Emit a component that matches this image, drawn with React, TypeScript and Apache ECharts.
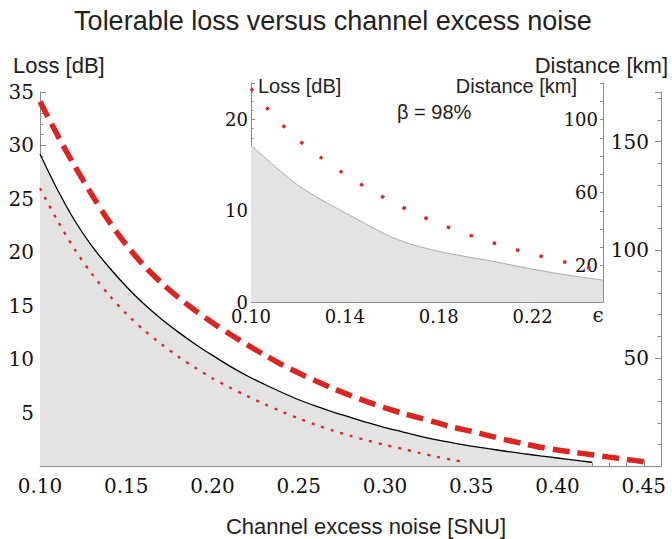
import React, { useEffect, useRef } from "react";
import * as echarts from "echarts";

// Main plot: channel excess noise [SNU] vs tolerable loss [dB]
const solidNoise = [0.10, 0.11, 0.12, 0.13, 0.14, 0.15, 0.16, 0.17, 0.18, 0.19, 0.20, 0.21, 0.22, 0.23, 0.24, 0.25, 0.26, 0.27, 0.28, 0.29, 0.30, 0.31, 0.32, 0.33, 0.34, 0.35, 0.36, 0.37, 0.38, 0.39, 0.40, 0.41, 0.42];
const solidLoss = [29.2, 25.9, 23.0, 20.6, 18.6, 16.8, 15.2, 13.8, 12.55, 11.4, 10.35, 9.35, 8.45, 7.65, 6.9, 6.2, 5.6, 5.05, 4.55, 4.05, 3.6, 3.2, 2.8, 2.45, 2.15, 1.87, 1.62, 1.38, 1.16, 0.95, 0.75, 0.55, 0.35];

const dashedNoise = [0.10, 0.11, 0.12, 0.13, 0.14, 0.15, 0.16, 0.17, 0.18, 0.19, 0.20, 0.21, 0.22, 0.23, 0.24, 0.25, 0.26, 0.27, 0.28, 0.29, 0.30, 0.31, 0.32, 0.33, 0.34, 0.35, 0.36, 0.37, 0.38, 0.39, 0.40, 0.41, 0.42, 0.43, 0.44, 0.45];
const dashedLoss = [34.1, 31.0, 28.1, 25.4, 22.9, 20.7, 18.8, 17.2, 15.8, 14.55, 13.4, 12.35, 11.35, 10.4, 9.5, 8.7, 7.95, 7.25, 6.6, 6.0, 5.45, 4.95, 4.5, 4.05, 3.6, 3.25, 2.85, 2.45, 2.1, 1.75, 1.5, 1.27, 1.05, 0.83, 0.62, 0.4];

const dottedNoise = [0.10, 0.11, 0.12, 0.13, 0.14, 0.15, 0.16, 0.17, 0.18, 0.19, 0.20, 0.21, 0.22, 0.23, 0.24, 0.25, 0.26, 0.27, 0.28, 0.29, 0.30, 0.31, 0.32, 0.33, 0.34, 0.345];
const dottedLoss = [26.0, 23.0, 20.3, 18.0, 16.0, 14.25, 12.75, 11.45, 10.25, 9.2, 8.2, 7.35, 6.55, 5.8, 5.1, 4.45, 3.85, 3.3, 2.82, 2.38, 1.98, 1.6, 1.22, 0.87, 0.55, 0.4];

// Inset (beta = 98%)
const insetFillNoise = [0.10, 0.11, 0.12, 0.13, 0.14, 0.15, 0.16, 0.17, 0.18, 0.19, 0.20, 0.21, 0.22, 0.23, 0.24, 0.25];
const insetFillLoss = [17.2, 14.9, 12.8, 11.2, 9.8, 8.4, 7.1, 6.2, 5.55, 5.05, 4.6, 4.1, 3.6, 3.15, 2.75, 2.4];

const insetDotNoise = [0.10, 0.11, 0.12, 0.13, 0.14, 0.15, 0.16, 0.17, 0.18, 0.19, 0.20, 0.21, 0.22, 0.23, 0.24, 0.245];
const insetDotLoss = [23.4, 20.3, 17.8, 15.8, 14.0, 12.4, 11.0, 9.7, 8.6, 7.6, 6.75, 5.95, 5.25, 4.6, 4.0, 3.7];

// Tick labels shown
const insetKmLabels = [20, 60, 100];

const SERIF = "DejaVu Serif";
const SANS = "Liberation Sans";
const AXIS_GRAY = "#8c8c8c";
const RED = "#dc2520";
const FILL = "#e3e3e3";

const pairs = (xs: number[], ys: number[]) => xs.map((x, i) => [x, ys[i]]);

function text(x: number, y: number, str: string, size: number, align: string, family = SANS) {
  return {
    type: "text",
    x,
    y,
    silent: true,
    z: 100,
    style: {
      text: str,
      fontSize: size,
      fontFamily: family,
      fill: "#222",
      align,
      verticalAlign: "middle",
    },
  };
}

export default function App() {
  const ref = useRef<HTMLDivElement>(null);

  useEffect(() => {
    if (!ref.current) return;
    const chart = echarts.init(ref.current, undefined, { renderer: "svg" });

    const axisLine = { show: true, lineStyle: { color: AXIS_GRAY, width: 1 } };
    const noSplit = { show: false };
    const mainLabel = { fontFamily: SERIF, fontSize: 20, color: "#111" };
    const insetLabel = { fontFamily: SERIF, fontSize: 18, color: "#111" };

    const option: any = {
      animation: false,
      backgroundColor: "#fff",
      grid: [
        { left: 40, right: 11, top: 92, bottom: 73, containLabel: false, outerBoundsMode: "none" },
        { left: 251, right: 69, top: 83, bottom: 237, containLabel: false, outerBoundsMode: "none" },
      ],
      xAxis: [
        {
          gridIndex: 0, type: "value", position: "bottom", min: 0.1, max: 0.46, interval: 0.05,
          axisLine, splitLine: noSplit,
          axisTick: { show: true, inside: true, length: 6, lineStyle: { color: AXIS_GRAY } },
          axisLabel: {
            formatter: (v: number) => v.toFixed(2), showMaxLabel: false, margin: 10, ...mainLabel,
          },
        },
        {
          gridIndex: 0, type: "value", position: "bottom", min: 0.1, max: 0.46, interval: 0.01,
          axisLine: { show: false }, splitLine: noSplit, axisLabel: { show: false },
          axisTick: { show: true, inside: true, length: 3.5, lineStyle: { color: AXIS_GRAY } },
        },
        {
          gridIndex: 1, type: "value", position: "bottom", min: 0.1, max: 0.25, interval: 0.04,
          axisLine, splitLine: noSplit,
          axisTick: { show: true, inside: true, length: 4, lineStyle: { color: AXIS_GRAY } },
          axisLabel: {
            formatter: (v: number) => v.toFixed(2), showMaxLabel: false, margin: 5, ...insetLabel,
          },
        },
        {
          gridIndex: 1, type: "value", position: "bottom", min: 0.1, max: 0.25, interval: 0.005,
          axisLine: { show: false }, splitLine: noSplit, axisLabel: { show: false },
          axisTick: { show: true, inside: true, length: 2.5, lineStyle: { color: AXIS_GRAY } },
        },
      ],
      yAxis: [
        {
          gridIndex: 0, type: "value", position: "left", min: 0, max: 35, interval: 5,
          axisLine, splitLine: noSplit,
          axisTick: { show: true, inside: true, length: 6, lineStyle: { color: AXIS_GRAY } },
          minorTick: { show: true, splitNumber: 5, length: 3.5, lineStyle: { color: AXIS_GRAY } },
          minorSplitLine: { show: false },
          axisLabel: {
            formatter: (v: number) => (v === 0 ? "" : String(v)), margin: 6, ...mainLabel,
          },
        },
        {
          gridIndex: 0, type: "value", position: "right", min: 0, max: 173, interval: 50,
          axisLine, splitLine: noSplit,
          axisTick: { show: true, inside: true, length: 6, lineStyle: { color: AXIS_GRAY } },
          axisLabel: {
            inside: true, formatter: (v: number) => (v === 0 || v > 150 ? "" : String(v)), margin: 12, ...mainLabel,
          },
        },
        {
          gridIndex: 0, type: "value", position: "right", min: 0, max: 173, interval: 10,
          axisLine: { show: false }, splitLine: noSplit, axisLabel: { show: false },
          axisTick: { show: true, inside: true, length: 3.5, lineStyle: { color: AXIS_GRAY } },
        },
        {
          gridIndex: 1, type: "value", position: "left", min: 0, max: 24, interval: 10,
          axisLine, splitLine: noSplit,
          axisTick: { show: true, inside: true, length: 4, lineStyle: { color: AXIS_GRAY } },
          axisLabel: {
            formatter: (v: number) => (v > 20 ? "" : String(v)), margin: 3, ...insetLabel,
          },
        },
        {
          gridIndex: 1, type: "value", position: "left", min: 0, max: 24, interval: 1,
          axisLine: { show: false }, splitLine: noSplit, axisLabel: { show: false },
          axisTick: { show: true, inside: true, length: 2.5, lineStyle: { color: AXIS_GRAY } },
        },
        {
          gridIndex: 1, type: "value", position: "right", min: 0, max: 120, interval: 10,
          axisLine, splitLine: noSplit,
          axisTick: { show: true, inside: true, length: 3, lineStyle: { color: AXIS_GRAY } },
          axisLabel: {
            inside: true, margin: 5,
            formatter: (v: number) => (insetKmLabels.indexOf(v) >= 0 ? String(v) : ""),
            ...insetLabel,
          },
        },
      ],
      series: [
        {
          type: "line", xAxisIndex: 0, yAxisIndex: 0, data: pairs(solidNoise, solidLoss),
          symbol: "none", smooth: 0.3, z: 2,
          lineStyle: { color: "#000", width: 1.3 },
          areaStyle: { color: FILL, opacity: 1 },
        },
        {
          type: "line", xAxisIndex: 0, yAxisIndex: 0, data: pairs(dottedNoise, dottedLoss),
          symbol: "none", smooth: 0.3, z: 3,
          lineStyle: { color: RED, width: 2.3, type: [3, 7], cap: "butt" },
        },
        {
          type: "line", xAxisIndex: 0, yAxisIndex: 0, data: pairs(dashedNoise, dashedLoss),
          symbol: "none", smooth: 0.3, z: 4,
          lineStyle: { color: RED, width: 5.5, type: [17, 8], cap: "butt" },
        },
        {
          type: "line", xAxisIndex: 2, yAxisIndex: 3, data: pairs(insetFillNoise, insetFillLoss),
          symbol: "none", smooth: 0.3, z: 2,
          lineStyle: { color: "#aaaaaa", width: 1 },
          areaStyle: { color: FILL, opacity: 1 },
        },
        {
          type: "line", xAxisIndex: 2, yAxisIndex: 3, data: pairs(insetDotNoise, insetDotLoss),
          symbol: "none", smooth: 0.3, z: 3,
          lineStyle: { color: RED, width: 3.3, type: [3.3, 21], cap: "butt" },
        },
      ],
      graphic: [
        text(333, 21, "Tolerable loss versus channel excess noise", 27, "center"),
        text(13, 65, "Loss [dB]", 22, "left"),
        text(668, 65, "Distance [km]", 22, "right"),
        text(366, 526, "Channel excess noise [SNU]", 22, "center"),
        text(258, 86, "Loss [dB]", 20, "left"),
        text(577, 86, "Distance [km]", 20, "right"),
        text(397, 112, "β = 98%", 20, "left"),
        text(598, 315, "ϵ", 20, "center", "DejaVu Serif"),
      ],
    };

    chart.setOption(option);
    return () => chart.dispose();
  }, []);

  return (
    <div
      ref={ref}
      style={{ position: "fixed", left: 0, top: 0, width: 672, height: 539, background: "#fff" }}
    />
  );
}
